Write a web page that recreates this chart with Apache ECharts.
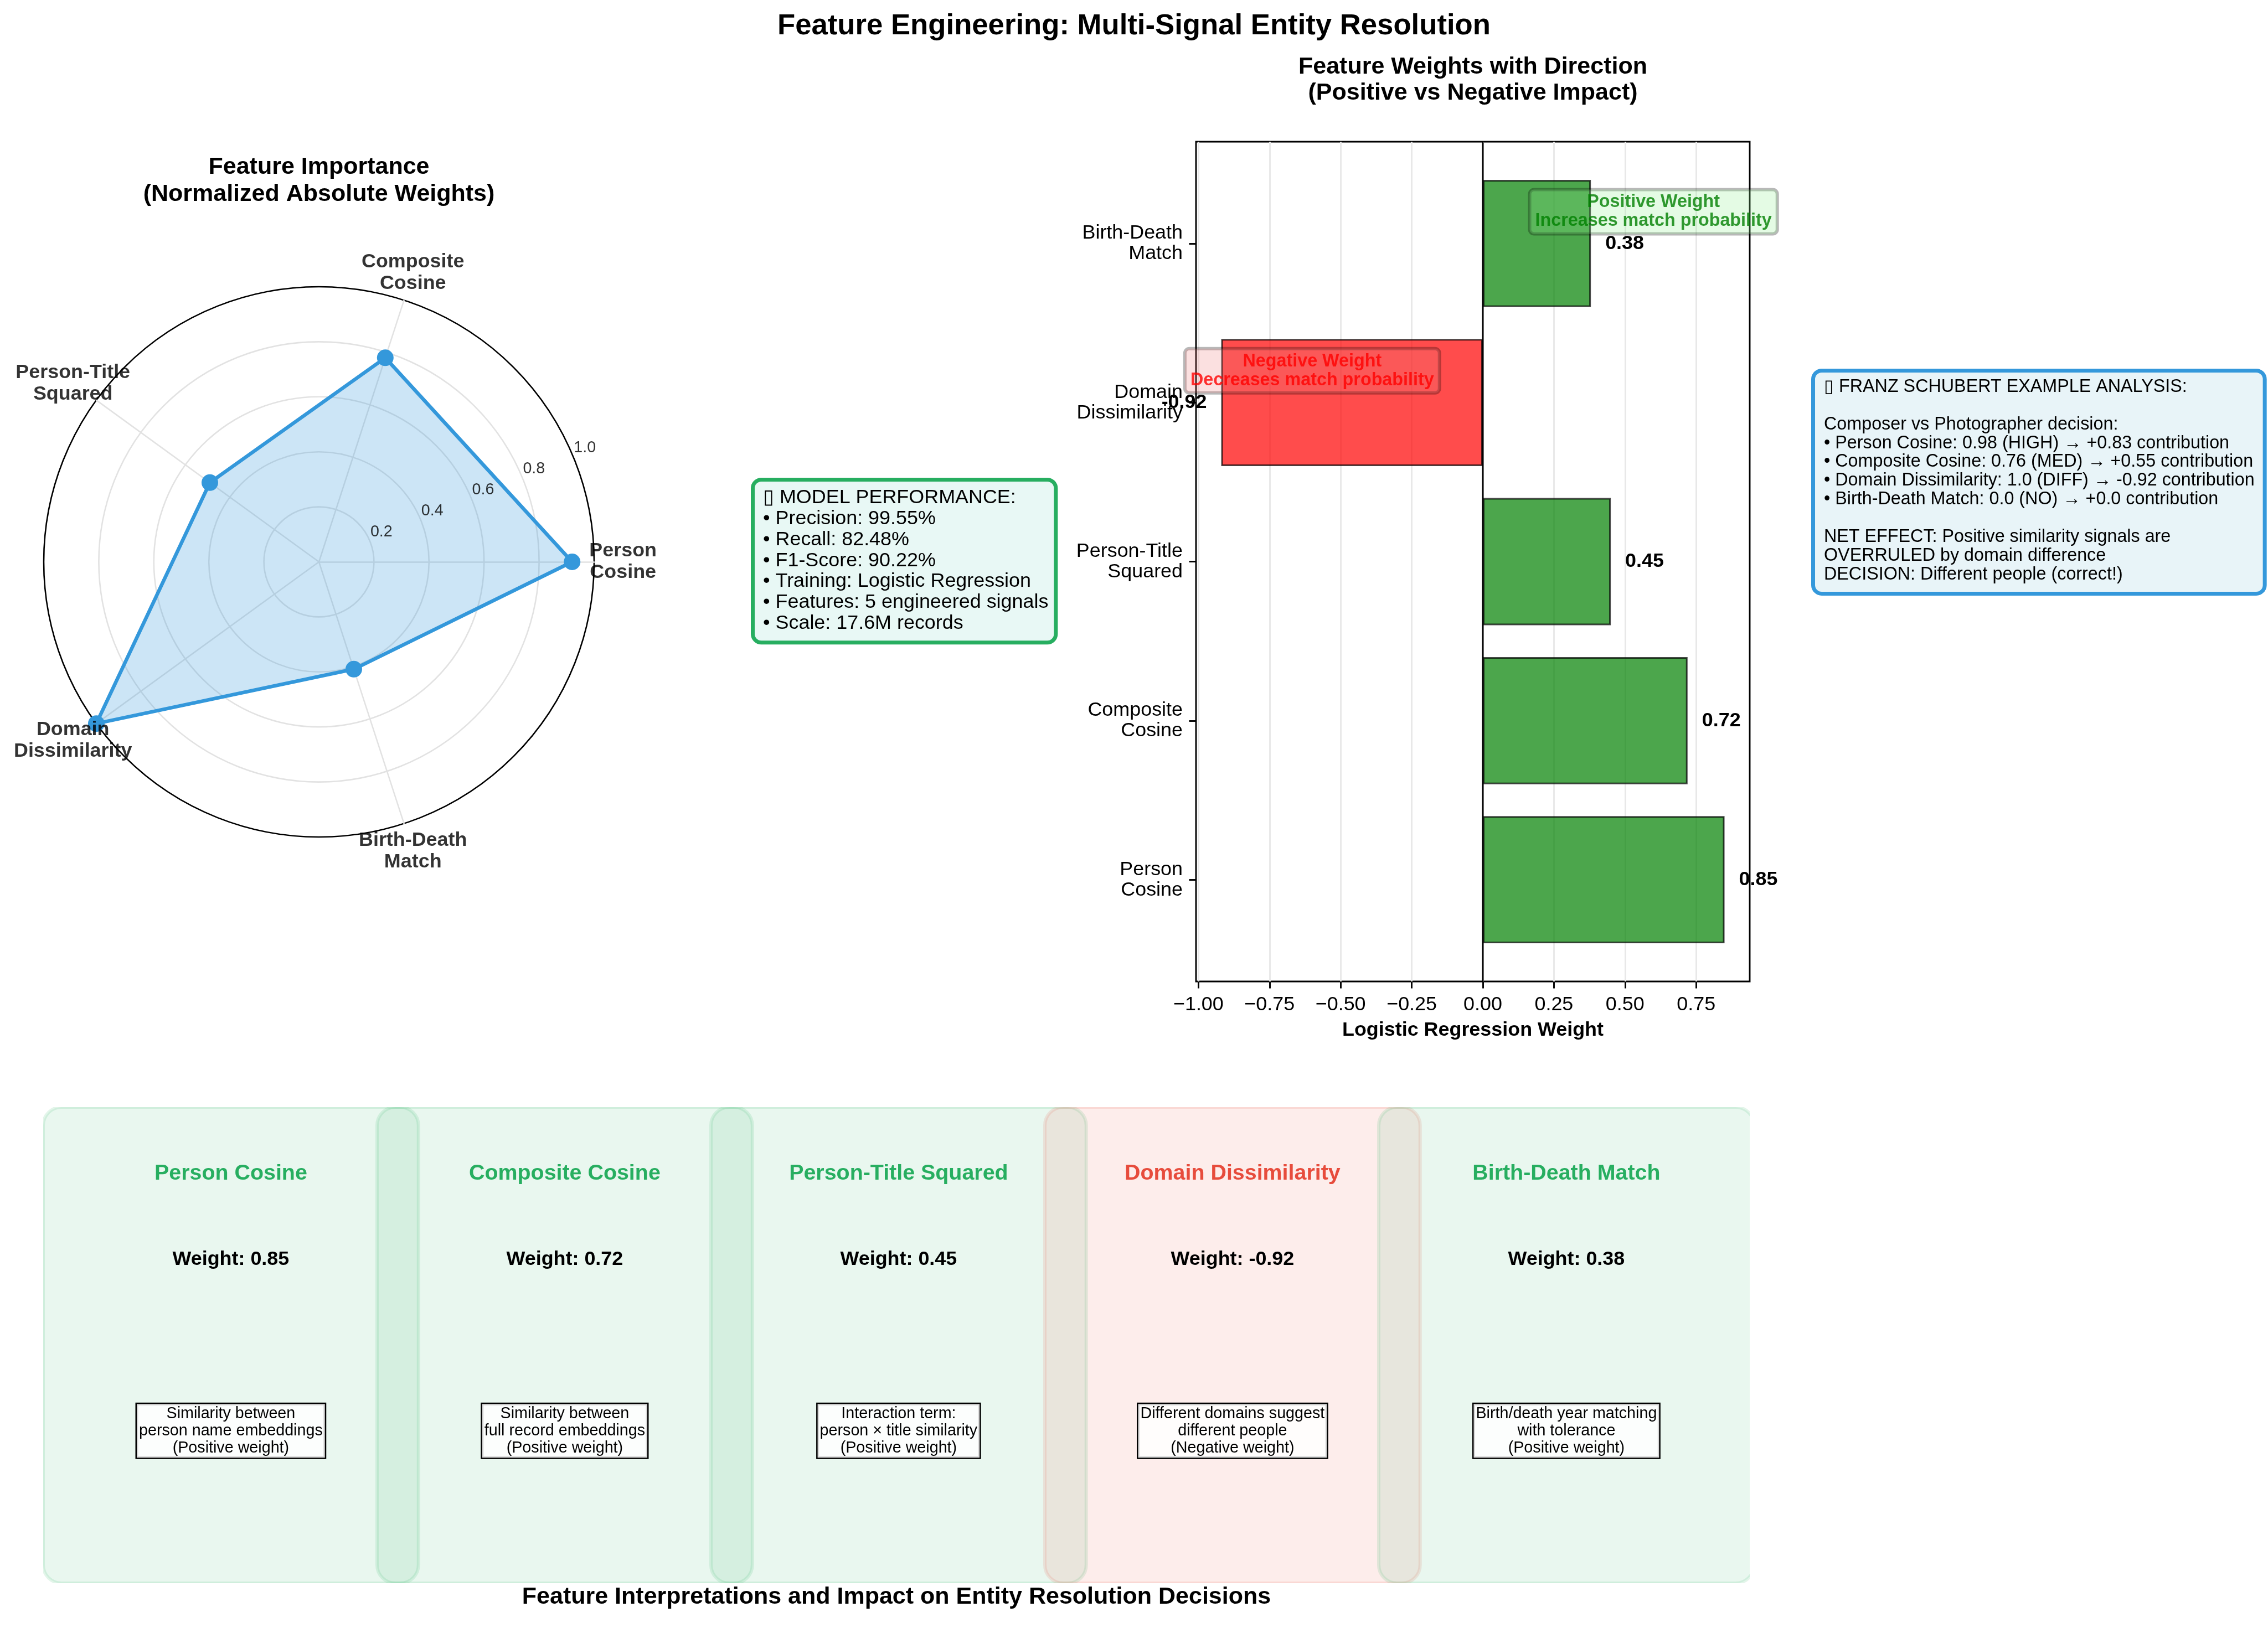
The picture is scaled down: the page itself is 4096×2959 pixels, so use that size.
<!DOCTYPE html>
<html>
<head>
<meta charset="utf-8">
<script src="https://cdn.jsdelivr.net/npm/echarts@6/dist/echarts.min.js"></script>
<style>
html,body{margin:0;padding:0;background:#ffffff;}
#chart{width:4096px;height:2959px;}
</style>
</head>
<body>
<div id="chart"></div>
<script>
// ---------------- data ----------------
const featureNames = ['Person Cosine', 'Composite Cosine', 'Person-Title Squared', 'Domain Dissimilarity', 'Birth-Death Match'];
const featureLabels = ['Person\nCosine', 'Composite\nCosine', 'Person-Title\nSquared', 'Domain\nDissimilarity', 'Birth-Death\nMatch'];
const featureWeights = [0.85, 0.72, 0.45, -0.92, 0.38];
const normalizedImportance = [0.92, 0.78, 0.49, 1.00, 0.41];
const radialTickValues = [0.2, 0.4, 0.6, 0.8, 1.0];
const weightTickValues = [-1.00, -0.75, -0.50, -0.25, 0.00, 0.25, 0.50, 0.75];
const featureDescriptions = [
  'Similarity between\nperson name embeddings\n(Positive weight)',
  'Similarity between\nfull record embeddings\n(Positive weight)',
  'Interaction term:\nperson \u00d7 title similarity\n(Positive weight)',
  'Different domains suggest\ndifferent people\n(Negative weight)',
  'Birth/death year matching\nwith tolerance\n(Positive weight)'
];
const annotationPoints = [[0.6, 4.2], [-0.6, 3.2]];
const annotationTexts = ['Positive Weight\nIncreases match probability', 'Negative Weight\nDecreases match probability'];
const performanceLines = [
  '\u25AF MODEL PERFORMANCE:',
  '\u2022 Precision: 99.55%',
  '\u2022 Recall: 82.48%',
  '\u2022 F1-Score: 90.22%',
  '\u2022 Training: Logistic Regression',
  '\u2022 Features: 5 engineered signals',
  '\u2022 Scale: 17.6M records'
];
const exampleLines = [
  '\u25AF FRANZ SCHUBERT EXAMPLE ANALYSIS:',
  '',
  'Composer vs Photographer decision:',
  '\u2022 Person Cosine: 0.98 (HIGH) \u2192 +0.83 contribution',
  '\u2022 Composite Cosine: 0.76 (MED) \u2192 +0.55 contribution',
  '\u2022 Domain Dissimilarity: 1.0 (DIFF) \u2192 -0.92 contribution',
  '\u2022 Birth-Death Match: 0.0 (NO) \u2192 +0.0 contribution',
  '',
  'NET EFFECT: Positive similarity signals are',
  'OVERRULED by domain difference',
  'DECISION: Different people (correct!)'
];
const mainTitle = 'Feature Engineering: Multi-Signal Entity Resolution';
const radarTitle = 'Feature Importance\n(Normalized Absolute Weights)';
const barTitle = 'Feature Weights with Direction\n(Positive vs Negative Impact)';
const barAxisName = 'Logistic Regression Weight';
const panelTitle = 'Feature Interpretations and Impact on Entity Resolution Decisions';

// ---------------- layout ----------------
const FONT = '"Liberation Sans", Arial, Helvetica, sans-serif';
const RC = [576, 1015], RR = 497;
const BL = 2160, BT = 256, BW = 1000, BH = 1517;
const xMin = -1.0085, xMax = 0.9385, yMin = -0.64, yMax = 4.64;
const unitY = BH / (yMax - yMin);
const barGridTop = BT + (yMax - 4.5) * unitY;
const barGridH = 5 * unitY;
const PL = 78, PT = 2000, PH = 860, PUNIT = 603, PANEL_W = 1.124;
const pXMax = (BL + BW - PL) / PUNIT;

const fmtTick = v => (v < 0 ? '\u2212' : '') + Math.abs(v).toFixed(2);

function txt(x, y, text, size, opts) {
  const o = opts || {};
  return {
    type: 'text', x: x, y: y, silent: true, z: o.z || 20,
    style: Object.assign({
      text: text, fill: '#000', fontSize: size, fontFamily: FONT,
      fontWeight: o.bold ? 'bold' : 'normal',
      align: o.align || 'center', verticalAlign: o.va || 'middle',
      textAlign: o.align || 'center', textVerticalAlign: o.va || 'middle'
    }, o.style || {})
  };
}

function renderPanel(params, api) {
  const i = api.value(0);
  const w = featureWeights[i];
  const c = w < 0 ? [231, 76, 60] : [39, 174, 96];
  const rgba = a => 'rgba(' + c[0] + ',' + c[1] + ',' + c[2] + ',' + a + ')';
  const tl = api.coord([i, 1]);
  const br = api.coord([i + PANEL_W, 0]);
  const cx = api.coord([i + PANEL_W / 2, 0])[0];
  const hex = w < 0 ? '#e74c3c' : '#27ae60';
  const common = {fontFamily: FONT, align: 'center', verticalAlign: 'middle', textAlign: 'center', textVerticalAlign: 'middle'};
  return {
    type: 'group',
    children: [
      {type: 'rect', shape: {x: tl[0], y: tl[1], width: br[0] - tl[0], height: br[1] - tl[1], r: 33},
        style: {fill: rgba(0.1), stroke: rgba(0.13), lineWidth: 6}},
      {type: 'text', x: cx, y: api.coord([0, 0.86])[1],
        style: Object.assign({text: featureNames[i], fill: hex, fontSize: 39.4, fontWeight: 'bold'}, common)},
      {type: 'text', x: cx, y: api.coord([0, 0.68])[1],
        style: Object.assign({text: 'Weight: ' + w.toFixed(2), fill: '#000', fontSize: 35.9, fontWeight: 'bold'}, common)},
      {type: 'text', x: cx, y: api.coord([0, 0.32])[1],
        style: Object.assign({text: featureDescriptions[i], fill: '#000', fontSize: 28.7, lineHeight: 31,
          backgroundColor: 'rgba(255,255,255,0.85)', borderColor: '#000', borderWidth: 2.5, padding: [2, 4]}, common)}
    ]
  };
}

const chart = echarts.init(document.getElementById('chart'), null, {renderer: 'canvas'});

const option = {
  backgroundColor: '#ffffff',
  animation: false,
  textStyle: {fontFamily: FONT},
  radar: {
    center: RC, radius: RR, startAngle: 0, splitNumber: 5, shape: 'circle',
    indicator: featureNames.map(n => ({name: n, min: 0, max: 1})),
    axisName: {show: false},
    axisLine: {lineStyle: {color: '#e2e2e2', width: 2.5}},
    splitLine: {lineStyle: {color: ['#e2e2e2', '#e2e2e2', '#e2e2e2', '#e2e2e2', '#e2e2e2', '#000000'], width: 2.6}},
    splitArea: {show: false},
    axisTick: {show: false},
    axisLabel: {show: false}
  },
  polar: [
    {center: RC, radius: RR},
    {center: RC, radius: RR * 1.105}
  ],
  angleAxis: [
    {polarIndex: 0, type: 'value', min: 0, max: 360, startAngle: 0, clockwise: false, show: false},
    {polarIndex: 1, type: 'value', min: 0, max: 360, startAngle: 0, clockwise: false, show: false}
  ],
  radiusAxis: [
    {polarIndex: 0, type: 'value', min: 0, max: 1, show: false},
    {polarIndex: 1, type: 'value', min: 0, max: 1, show: false}
  ],
  grid: [
    {left: BL, top: BT, width: BW, height: BH, show: true, borderColor: '#000', borderWidth: 2.9, backgroundColor: 'rgba(0,0,0,0)', outerBoundsMode: 'none'},
    {left: BL, top: barGridTop, width: BW, height: barGridH, outerBoundsMode: 'none'},
    {left: PL, top: PT, width: pXMax * PUNIT, height: PH, outerBoundsMode: 'none'}
  ],
  xAxis: [
    {gridIndex: 0, type: 'value', min: xMin, max: xMax, position: 'bottom',
      axisLine: {show: false, onZero: false},
      axisTick: {show: true, length: 12.5, customValues: weightTickValues, lineStyle: {color: '#000', width: 2.9}},
      axisLabel: {show: true, customValues: weightTickValues, formatter: fmtTick, fontSize: 35.9, color: '#000', margin: 24, hideOverlap: false},
      splitLine: {show: true, lineStyle: {color: '#e8e8e8', width: 2.9}},
      name: barAxisName, nameLocation: 'middle', nameGap: 70,
      nameTextStyle: {fontSize: 35.9, fontWeight: 'bold', color: '#000'}},
    {gridIndex: 1, type: 'value', min: xMin, max: xMax, show: false, axisLine: {onZero: false}, splitLine: {show: false}},
    {gridIndex: 2, type: 'value', min: 0, max: pXMax, show: false, axisLine: {onZero: false}, splitLine: {show: false}}
  ],
  yAxis: [
    {gridIndex: 0, type: 'value', min: yMin, max: yMax, show: false, axisLine: {onZero: false}, splitLine: {show: false}},
    {gridIndex: 1, type: 'category', data: featureLabels,
      axisLine: {show: false, onZero: false},
      axisTick: {show: true, alignWithLabel: true, length: 12.5, lineStyle: {color: '#000', width: 2.9}},
      axisLabel: {fontSize: 35.9, color: '#000', margin: 24, lineHeight: 37, align: 'right'},
      splitLine: {show: false}},
    {gridIndex: 2, type: 'value', min: 0, max: 1, show: false, axisLine: {onZero: false}, splitLine: {show: false}}
  ],
  series: [
    {
      type: 'radar', silent: true, z: 3,
      symbol: 'circle', symbolSize: 30,
      lineStyle: {color: '#3498db', width: 6.5},
      itemStyle: {color: '#3498db'},
      areaStyle: {color: 'rgba(52,152,219,0.25)', opacity: 1},
      data: [{value: normalizedImportance, name: 'Importance'}]
    },
    {
      type: 'scatter', coordinateSystem: 'polar', polarIndex: 0, silent: true, z: 4,
      symbolSize: 0, itemStyle: {color: 'rgba(0,0,0,0)'},
      data: radialTickValues.map(v => [v, 22.5]),
      label: {show: true, position: 'inside', offset: [21, -16], formatter: p => p.value[0].toFixed(1),
        fontSize: 28.7, color: '#000'}
    },
    {
      type: 'scatter', coordinateSystem: 'polar', polarIndex: 1, silent: true, z: 4,
      symbolSize: 0, itemStyle: {color: 'rgba(0,0,0,0)'},
      data: featureLabels.map((l, i) => ({name: l, value: [1, i * 360 / featureLabels.length]})),
      label: {show: true, position: 'inside', formatter: '{b}', fontSize: 35.9, fontWeight: 'bold',
        color: '#000', lineHeight: 39, align: 'center'}
    },
    {
      type: 'bar', xAxisIndex: 1, yAxisIndex: 1, silent: true, z: 2,
      barWidth: '80%',
      data: featureWeights.map(w => ({
        value: w,
        itemStyle: {color: w < 0 ? 'rgba(255,0,0,0.7)' : 'rgba(0,128,0,0.7)'},
        label: {position: w < 0 ? 'left' : 'right'}
      })),
      itemStyle: {borderColor: 'rgba(0,0,0,0.7)', borderWidth: 3},
      label: {show: true, distance: 26, formatter: p => p.value.toFixed(2), fontSize: 35.9, fontWeight: 'bold', color: '#000'}
    },
    {
      type: 'line', xAxisIndex: 0, yAxisIndex: 0, silent: true, z: 5,
      symbol: 'none', lineStyle: {color: '#000', width: 3},
      data: [[0, yMin], [0, yMax]]
    },
    {
      type: 'scatter', xAxisIndex: 0, yAxisIndex: 0, silent: true, z: 10,
      symbolSize: 0, itemStyle: {color: 'rgba(0,0,0,0)'},
      data: annotationPoints.map((p, i) => ({
        value: p,
        label: {
          formatter: annotationTexts[i],
          color: i === 0 ? '#008000' : '#ff0000',
          backgroundColor: i === 0 ? 'rgba(144,238,144,0.3)' : 'rgba(240,128,128,0.3)'
        }
      })),
      label: {show: true, position: 'inside', fontSize: 32.3, fontWeight: 'bold', lineHeight: 34, align: 'center',
        borderColor: 'rgba(0,0,0,0.35)', borderWidth: 3, borderRadius: 8, padding: [6, 10]}
    },
    {
      type: 'custom', coordinateSystem: 'cartesian2d', xAxisIndex: 2, yAxisIndex: 2, silent: true, clip: true, z: 1,
      renderItem: renderPanel,
      data: featureNames.map((n, i) => [i, 0])
    }
  ],
  graphic: [
    txt(2048, 47, mainTitle, 52.7, {bold: true}),
    txt(576, 327, radarTitle, 43, {bold: true, style: {lineHeight: 49}}),
    txt(2660, 145, barTitle, 43, {bold: true, style: {lineHeight: 47}}),
    txt(1619, 2885, panelTitle, 43, {bold: true}),
    txt(1363, 870, performanceLines.join('\n'), 35.9, {align: 'left', va: 'top', style: {
      lineHeight: 37.9, backgroundColor: '#e8f8f5', borderColor: '#27ae60', borderWidth: 7, borderRadius: 12, padding: [10, 10, 12, 15]}}),
    txt(3278, 673, exampleLines.join('\n'), 32.3, {align: 'left', va: 'top', style: {
      lineHeight: 33.9, backgroundColor: '#e8f4f8', borderColor: '#3498db', borderWidth: 7, borderRadius: 12, padding: [9, 15, 14, 16]}})
  ]
};

chart.setOption(option);
</script>
</body>
</html>
